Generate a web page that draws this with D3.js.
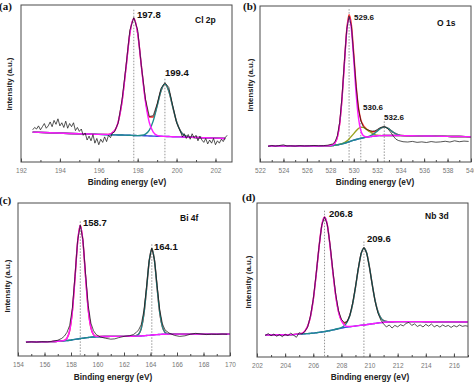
<!DOCTYPE html>
<html><head><meta charset="utf-8">
<script src="https://cdn.jsdelivr.net/npm/d3@7"></script>
<style>body{margin:0;background:#fff}svg{display:block}</style>
</head><body>
<svg id="chart" width="474" height="383"></svg>
<script>
// ---------- Panel (a) Cl 2p ----------
const aFitEnergy = [192.6,193.5,194.5,195.5,196.0,196.5,196.8,197.0,197.2,197.4,197.6,197.8,198.0,198.2,198.4,198.6,198.8,199.0,199.2,199.4,199.6,199.8,200.0,200.2,200.4,200.7,201.0,201.5,202.0,202.5];
const aBackground = [19.0,18.6,18.2,17.8,17.6,17.4,17.3,17.2,17.2,17.1,17.0,16.9,16.8,16.8,16.7,16.6,16.5,16.4,16.4,16.3,16.2,16.1,16.0,16.0,15.9,15.8,15.6,15.4,15.2,15.0];
const aPeak1978 = [19.0,18.6,18.2,17.8,17.6,17.6,19.8,25.6,38.9,60.2,82.1,91.5,81.9,59.9,38.4,25.0,19.0,16.9,16.4,16.3,16.2,16.1,16.0,16.0,15.9,15.8,15.6,15.4,15.2,15.0];
const aPeak1994 = [19.0,18.6,18.2,17.8,17.6,17.4,17.3,17.2,17.2,17.1,17.0,16.9,16.8,17.0,17.8,20.3,26.2,35.6,45.4,49.6,45.2,35.3,25.7,19.7,17.0,15.9,15.6,15.4,15.2,15.0];
const aEnvelope = [19.0,18.6,18.2,17.8,17.6,17.6,19.8,25.6,38.9,60.2,82.1,91.5,81.9,60.1,39.5,28.7,28.7,36.1,45.4,49.6,45.2,35.3,25.7,19.7,17.0,15.9,15.6,15.4,15.2,15.0];
const aDataEnergy = [192.6,192.7,192.8,192.9,193.0,193.1,193.2,193.3,193.4,193.5,193.6,193.7,193.8,193.9,194.0,194.1,194.2,194.3,194.4,194.5,194.6,194.7,194.8,194.9,195.0,195.1,195.2,195.3,195.4,195.5,195.6,195.7,195.8,195.9,196.0,196.1,196.2,196.3,196.4,196.5,196.6,196.7,196.8,197.0,197.2,197.4,197.6,197.8,198.0,198.2,198.4,198.6,198.8,199.0,199.2,199.4,199.6,199.8,200.0,200.2,200.3,200.4,200.5,200.6,200.7,200.8,200.9,201.0,201.1,201.2,201.3,201.4,201.5,201.6,201.7,201.8,201.9,202.0,202.1,202.2,202.3,202.4,202.5,202.6];
const aDataCounts = [20.5,22.0,21.0,23.0,20.5,22.5,24.5,21.5,23.0,25.5,22.5,26.5,24.0,27.5,23.0,25.0,22.0,26.0,21.5,24.5,22.5,25.0,20.0,22.0,19.5,21.0,17.0,18.5,14.0,16.5,13.5,17.5,12.0,15.0,11.0,14.5,12.5,16.0,13.0,17.0,15.5,18.5,19.0,25.0,40.0,61.0,84.0,92.0,84.0,60.0,40.0,29.0,29.5,37.0,47.0,50.5,47.5,36.0,25.0,19.5,16.0,18.0,15.0,17.5,14.5,18.0,15.5,17.0,13.5,16.5,14.0,12.5,15.0,11.5,14.0,12.0,15.0,11.0,13.5,12.0,14.5,13.0,15.5,17.0];
const aTicks = [192,194,196,198,200,202];
const aPeakPositions = [197.8,199.4];
const aPeakLabels = ["197.8","199.4"];

// ---------- Panel (b) O 1s ----------
const bFitEnergy = [522.7,524,526,527,527.8,528.2,528.4,528.6,528.8,529.0,529.2,529.4,529.6,529.8,530.0,530.2,530.4,530.6,530.8,531.0,531.2,531.4,531.6,531.8,532.0,532.2,532.4,532.6,532.8,533.0,533.2,533.4,533.6,534.0,535,536,537,538,539,540];
const bBackground = [10.3,10.3,10.3,10.3,10.4,10.6,10.8,11.0,11.3,11.6,12.0,12.5,13.0,13.5,14.0,14.4,14.8,15.2,15.5,15.8,16.0,16.3,16.5,16.6,16.8,16.9,16.9,17.0,17.0,17.0,17.0,17.0,17.0,16.9,16.8,16.7,16.6,16.4,16.3,16.2];
const bPeak5296 = [10.3,10.3,10.3,10.3,10.4,11.0,12.3,16.0,24.8,41.0,63.2,83.8,92.7,84.8,65.2,43.8,28.3,20.2,17.0,16.2,16.0,16.3,16.5,16.6,16.8,16.9,16.9,17.0,17.0,17.0,17.0,17.0,17.0,16.9,16.8,16.7,16.6,16.4,16.3,16.2];
const bPeak5306 = [10.3,10.3,10.3,10.3,10.4,10.6,10.8,11.0,11.3,11.75,12.4,13.4,14.8,16.5,18.2,20.0,21.5,22.2,22.2,21.4,20.2,19.3,18.3,17.5,17.2,17.05,16.9,17.0,17.0,17.0,17.0,17.0,17.0,16.9,16.8,16.7,16.6,16.4,16.3,16.2];
const bPeak5326 = [10.3,10.3,10.3,10.3,10.4,10.6,10.8,11.0,11.3,11.6,12.0,12.5,13.0,13.5,14.0,14.4,14.8,15.2,15.5,15.9,16.2,16.8,17.6,18.5,19.8,21.1,22.0,22.5,22.1,21.2,20.0,18.9,18.1,17.1,16.8,16.7,16.6,16.4,16.3,16.2];
const bEnvelope = [10.3,10.3,10.3,10.3,10.4,11.0,12.3,16.0,24.8,41.2,63.6,84.7,94.5,87.8,69.4,49.4,35.0,27.2,23.7,21.8,20.4,19.8,19.4,19.4,20.2,21.25,22.0,22.5,22.1,21.2,20.0,18.9,18.1,17.1,16.8,16.7,16.6,16.4,16.3,16.2];
const bDataEnergy = [522.7,523.0,523.3,523.6,524.0,524.3,524.6,525.0,525.4,525.8,526.2,526.6,527.0,527.4,527.8,528.2,528.4,528.6,528.8,529.0,529.2,529.4,529.6,529.8,530.0,530.2,530.4,530.6,530.8,531.0,531.2,531.4,531.6,531.8,532.0,532.2,532.4,532.6,532.8,533.0,533.2,533.4,533.6,533.8,534.2,534.6,535.0,535.4,535.8,536.2,536.6,537.0,537.4,537.8,538.2,538.6,539.0,539.4,539.8];
const bDataCounts = [10.0,10.6,10.2,10.5,11.0,10.3,10.4,10.2,10.5,10.3,10.4,10.6,10.4,10.5,10.8,11.6,13.0,16.8,25.5,42.0,64.5,85.0,93.5,87.0,68.0,48.5,34.0,26.5,22.8,21.2,20.6,20.0,19.8,20.0,20.8,21.8,22.4,22.6,22.0,20.5,18.5,16.3,14.6,13.8,13.0,12.8,13.2,12.6,12.9,12.5,13.1,12.7,12.9,13.3,12.8,13.6,13.0,13.4,13.2];
const bTicks = [522,524,526,528,530,532,534,536,538,540];
const bPeakPositions = [529.6,530.6,532.6];
const bPeakLabels = ["529.6","530.6","532.6"];

// ---------- Panel (c) Bi 4f ----------
const cFitEnergy = [154.6,155.5,156.5,157.0,157.5,157.7,157.9,158.1,158.3,158.5,158.7,158.9,159.1,159.3,159.5,159.7,159.9,160.5,161,162,162.5,162.9,163.1,163.3,163.5,163.7,163.9,164.1,164.3,164.5,164.7,164.9,165.1,165.3,166,167,168,169,170];
const cBackground = [9.2,9.2,9.4,9.6,9.9,10.1,10.3,10.6,10.9,11.1,11.4,11.6,11.9,12.1,12.3,12.4,12.5,12.7,12.8,12.8,12.9,13.0,13.0,13.1,13.2,13.4,13.5,13.7,13.9,14.0,14.1,14.2,14.2,14.3,14.3,14.3,14.3,14.3,14.3];
const cPeak1587 = [9.2,9.2,9.4,9.6,10.2,11.7,16.6,29.0,50.9,74.5,85.4,75.0,51.9,30.5,18.6,14.0,12.8,12.7,12.8,12.8,12.9,13.0,13.0,13.1,13.2,13.4,13.5,13.7,13.9,14.0,14.1,14.2,14.2,14.3,14.3,14.3,14.3,14.3,14.3];
const cPeak1641 = [9.2,9.2,9.4,9.6,9.9,10.1,10.3,10.6,10.9,11.1,11.4,11.6,11.9,12.1,12.3,12.4,12.5,12.7,12.8,12.8,12.9,13.2,14.2,17.9,27.3,43.9,61.9,70.2,62.3,44.5,28.2,19.0,15.4,14.5,14.3,14.3,14.3,14.3,14.3];
const cEnvelope = [9.2,9.2,9.4,9.6,10.2,11.7,16.6,29.0,50.9,74.5,85.4,75.0,51.9,30.5,18.6,14.0,12.8,12.7,12.8,12.8,12.9,13.2,14.2,17.9,27.3,43.9,61.9,70.2,62.3,44.5,28.2,19.0,15.4,14.5,14.3,14.3,14.3,14.3,14.3];
const cDataEnergy = [154.6,155.0,155.4,155.8,156.2,156.6,157.0,157.3,157.5,157.7,157.9,158.1,158.3,158.5,158.7,158.9,159.1,159.3,159.5,159.7,159.9,160.2,160.6,161.0,161.3,161.6,162.0,162.4,162.7,162.9,163.1,163.3,163.5,163.7,163.9,164.1,164.3,164.5,164.7,164.9,165.1,165.4,165.8,166.2,166.6,167.0,167.4,167.8,168.2,168.6,169.0,169.4,169.8];
const cDataCounts = [9.0,9.3,9.1,9.4,9.3,9.6,10.3,11.5,13.0,15.5,20.0,31.0,52.0,75.5,85.5,76.0,53.5,33.0,21.5,16.5,14.0,12.5,11.6,11.0,11.2,12.0,12.8,13.2,14.0,15.2,17.0,20.5,29.5,45.0,62.5,70.5,63.0,46.0,30.0,21.0,17.0,15.0,13.5,12.8,13.2,14.2,14.8,14.4,14.0,14.2,14.1,14.3,14.2];
const cTicks = [154,156,158,160,162,164,166,168,170];
const cPeakPositions = [158.7,164.1];
const cPeakLabels = ["158.7","164.1"];

// ---------- Panel (d) Nb 3d ----------
const dFitEnergy = [202.6,204.0,205.0,205.2,205.4,205.6,205.8,206.0,206.2,206.4,206.6,206.8,207.0,207.2,207.4,207.6,207.8,208.0,208.2,208.4,208.6,208.8,209.0,209.2,209.4,209.6,209.8,210.0,210.2,210.4,210.6,210.8,211.0,211.2,211.4,211.6,212,213,214,215,216,217];
const dBackground = [14.3,14.4,14.8,14.9,15.1,15.2,15.35,15.5,15.75,16.0,16.25,16.5,16.85,17.2,17.6,18.0,18.4,18.8,19.1,19.4,19.65,19.9,20.15,20.4,20.6,20.8,21.05,21.3,21.55,21.8,22.05,22.3,22.5,22.7,22.8,22.9,23.0,23.0,22.9,22.8,22.8,22.7];
const dPeak2068 = [14.3,14.4,15.0,15.4,16.8,19.9,26.2,37.2,53.0,70.5,85.0,90.7,85.6,71.7,54.8,39.7,29.2,23.5,20.8,19.9,19.8,19.9,20.15,20.4,20.6,20.8,21.05,21.3,21.55,21.8,22.05,22.3,22.5,22.7,22.8,22.9,23.0,23.0,22.9,22.8,22.8,22.7];
const dPeak2096 = [14.3,14.4,14.8,14.9,15.1,15.2,15.35,15.5,15.75,16.0,16.25,16.5,16.85,17.2,17.6,18.0,18.5,19.15,20.25,22.55,26.95,34.5,45.2,57.15,66.9,70.8,67.35,58.05,46.6,36.4,29.35,25.45,23.65,23.05,22.9,22.9,23.0,23.0,22.9,22.8,22.8,22.7];
const dEnvelope = [14.3,14.4,15.0,15.4,16.8,19.9,26.2,37.2,53.0,70.5,85.0,90.7,85.6,71.7,54.8,39.7,29.3,23.85,21.95,23.05,27.1,34.5,45.2,57.15,66.9,70.8,67.35,58.05,46.6,36.4,29.35,25.45,23.65,23.05,22.9,22.9,23.0,23.0,22.9,22.8,22.8,22.7];
const dDataEnergy = [202.6,202.8,203.0,203.2,203.4,203.6,203.8,204.0,204.2,204.4,204.6,204.8,205.0,205.2,205.4,205.6,205.8,206.0,206.2,206.4,206.6,206.8,207.0,207.2,207.4,207.6,207.8,208.0,208.2,208.4,208.6,208.8,209.0,209.2,209.4,209.6,209.8,210.0,210.2,210.4,210.6,210.8,211.0,211.2,211.4,211.6,211.8,212.0,212.2,212.4,212.6,212.8,213.0,213.2,213.4,213.6,213.8,214.0,214.2,214.4,214.6,214.8,215.0,215.2,215.4,215.6,215.8,216.0,216.2,216.4,216.6,216.8,217.0];
const dDataCounts = [14.0,15.2,13.8,14.9,13.5,14.6,13.2,14.8,13.9,15.5,14.2,12.8,15.8,15.0,16.5,19.5,26.5,37.5,53.5,71.0,85.5,91.0,86.0,72.5,55.5,40.5,30.0,24.5,22.5,22.8,27.0,35.0,45.5,57.5,67.5,71.0,67.5,58.0,46.5,36.0,28.5,24.0,21.5,19.5,20.8,18.8,20.5,19.6,21.0,20.2,21.8,22.5,20.5,21.5,19.8,20.8,19.5,21.2,20.0,21.4,19.6,20.6,19.4,20.8,19.8,20.5,19.2,20.4,19.6,20.8,19.9,20.3,20.0];
const dTicks = [202,204,206,208,210,212,214,216];
const dPeakPositions = [206.8,209.6];
const dPeakLabels = ["206.8","209.6"];

const svg = d3.select('#chart');
const COL = {mag:'#ff1aff', teal:'#1f8c8c', red:'#ff2a2a', blue:'#3344dd', olive:'#9aa31e', data:'#111'};

function drawPanel(cfg){
  const x = d3.scaleLinear().domain(cfg.xDomain).range([cfg.x0, cfg.x1]);
  const y = d3.scaleLinear().domain([0,100]).range([cfg.y1, cfg.y0]);
  const g = svg.append('g');
  const clipId = 'clip' + cfg.id;
  svg.append('clipPath').attr('id', clipId).append('rect')
    .attr('x', cfg.x0).attr('y', cfg.y0).attr('width', cfg.x1-cfg.x0).attr('height', cfg.y1-cfg.y0);
  const plot = g.append('g').attr('clip-path', `url(#${clipId})`);

  cfg.peaks.forEach((p,i)=>{
    plot.append('line').attr('x1', x(p)).attr('x2', x(p))
      .attr('y1', y(cfg.peakTops[i])).attr('y2', cfg.y1)
      .attr('stroke','#8a8a8a').attr('stroke-width',0.9).attr('stroke-dasharray','1.5,1.5');
  });

  const smooth = d3.line().curve(d3.curveMonotoneX);
  cfg.fits.forEach(f=>{
    plot.append('path')
      .attr('d', smooth(f.e.map((e,i)=>[x(e), y(f.v[i])])))
      .attr('fill','none').attr('stroke', f.color).attr('stroke-width', f.w || 1.4);
  });
  const lin = d3.line();
  plot.append('path')
    .attr('d', lin(cfg.dataE.map((e,i)=>[x(e), y(cfg.dataV[i])])))
    .attr('fill','none').attr('stroke', COL.data).attr('stroke-width', 0.85).attr('stroke-opacity',0.85);

  g.append('rect').attr('x', cfg.x0).attr('y', cfg.y0)
    .attr('width', cfg.x1-cfg.x0).attr('height', cfg.y1-cfg.y0)
    .attr('fill','none').attr('stroke','#4a4a4a').attr('stroke-width',1);

  const minor = d3.range(Math.ceil(cfg.xDomain[0]), Math.floor(cfg.xDomain[1])+1, 1);
  const axMinor = d3.axisBottom(x).tickValues(minor).tickSize(-2).tickFormat('');
  const gm = g.append('g').attr('transform', `translate(0,${cfg.y1})`).call(axMinor);
  gm.select('.domain').remove();
  gm.selectAll('line').attr('stroke','#4a4a4a');
  const ax = d3.axisBottom(x).tickValues(cfg.ticks).tickSize(-3.5).tickPadding(6).tickFormat(d3.format('d'));
  const ga = g.append('g').attr('transform', `translate(0,${cfg.y1})`).call(ax);
  ga.select('.domain').remove();
  ga.selectAll('line').attr('stroke','#4a4a4a');
  ga.selectAll('text').attr('font-family','Arial, Liberation Sans, sans-serif')
    .attr('font-size', 6.5).attr('fill','#777');

  g.append('text').attr('x', cfg.xTitle[0]).attr('y', cfg.xTitle[1])
    .attr('text-anchor','middle').attr('font-family','Arial, Liberation Sans, sans-serif')
    .attr('font-weight','bold').attr('font-size',8.3).attr('fill','#222')
    .text('Binding energy (eV)');
  g.append('text').attr('transform', `translate(${cfg.yTitle[0]},${cfg.yTitle[1]}) rotate(-90)`)
    .attr('text-anchor','middle').attr('font-family','Arial, Liberation Sans, sans-serif')
    .attr('font-weight','bold').attr('font-size',7.8).attr('fill','#222')
    .text('Intensity (a.u.)');
  g.append('text').attr('x', cfg.letter[0]).attr('y', cfg.letter[1])
    .attr('font-family','Liberation Serif, Times New Roman, serif').attr('font-weight','bold')
    .attr('font-size',11).attr('fill','#111').text(cfg.letterText);
  g.append('text').attr('x', cfg.name[0]).attr('y', cfg.name[1])
    .attr('font-family','Arial, Liberation Sans, sans-serif').attr('font-weight','bold')
    .attr('font-size',8.5).attr('fill','#111').text(cfg.nameText);
  cfg.labels.forEach((t,i)=>{
    g.append('text').attr('x', cfg.labelPos[i][0]).attr('y', cfg.labelPos[i][1])
      .attr('font-family','Arial, Liberation Sans, sans-serif').attr('font-weight','bold')
      .attr('font-size', cfg.labelSize).attr('fill','#111').text(t);
  });
}

drawPanel({id:'a', x0:21, x1:232, y0:5, y1:162, xDomain:[192,202.85], ticks:aTicks,
  fits:[{e:aFitEnergy, v:aBackground, color:COL.blue},
        {e:aFitEnergy, v:aEnvelope, color:COL.red},
        {e:aFitEnergy, v:aPeak1994, color:COL.teal},
        {e:aFitEnergy, v:aPeak1978, color:COL.mag}],
  dataE:aDataEnergy, dataV:aDataCounts,
  peaks:aPeakPositions, peakTops:[97,53], labels:aPeakLabels, labelSize:9.5,
  labelPos:[[137,18],[165,76]],
  xTitle:[127,185], yTitle:[12,84], letter:[-1,10], letterText:'(a)', name:[195,23], nameText:'Cl 2p'});

drawPanel({id:'b', x0:260, x1:471, y0:6, y1:162, xDomain:[522,540], ticks:bTicks,
  fits:[{e:bFitEnergy, v:bBackground, color:COL.blue},
        {e:bFitEnergy, v:bEnvelope, color:COL.red},
        {e:bFitEnergy, v:bPeak5306, color:COL.olive},
        {e:bFitEnergy, v:bPeak5326, color:COL.teal},
        {e:bFitEnergy, v:bPeak5296, color:COL.mag}],
  dataE:bDataEnergy, dataV:bDataCounts,
  peaks:bPeakPositions, peakTops:[98,27,26], labels:bPeakLabels, labelSize:8,
  labelPos:[[354,20],[363,110],[384,120]],
  xTitle:[375,185], yTitle:[253,85], letter:[243,10], letterText:'(b)', name:[437,26], nameText:'O 1s'});

drawPanel({id:'c', x0:18, x1:230, y0:203, y1:356, xDomain:[154,170], ticks:cTicks,
  fits:[{e:cFitEnergy, v:cBackground, color:COL.blue},
        {e:cFitEnergy, v:cEnvelope, color:COL.red},
        {e:cFitEnergy, v:cPeak1641, color:COL.teal},
        {e:cFitEnergy, v:cPeak1587, color:COL.mag}],
  dataE:cDataEnergy, dataV:cDataCounts,
  peaks:cPeakPositions, peakTops:[88,73], labels:cPeakLabels, labelSize:9.5,
  labelPos:[[83,226],[154,250]],
  xTitle:[113,380], yTitle:[10,286], letter:[-1,204], letterText:'(c)', name:[180,221], nameText:'Bi 4f'});

drawPanel({id:'d', x0:257, x1:468, y0:203, y1:357, xDomain:[202,217], ticks:dTicks,
  fits:[{e:dFitEnergy, v:dBackground, color:COL.blue},
        {e:dFitEnergy, v:dEnvelope, color:COL.red},
        {e:dFitEnergy, v:dPeak2096, color:COL.teal},
        {e:dFitEnergy, v:dPeak2068, color:COL.mag}],
  dataE:dDataEnergy, dataV:dDataCounts,
  peaks:dPeakPositions, peakTops:[95,75], labels:dPeakLabels, labelSize:9.5,
  labelPos:[[329,217],[367,242]],
  xTitle:[370,380], yTitle:[251,282], letter:[242,201], letterText:'(d)', name:[425,219], nameText:'Nb 3d'});
</script>
</body></html>
